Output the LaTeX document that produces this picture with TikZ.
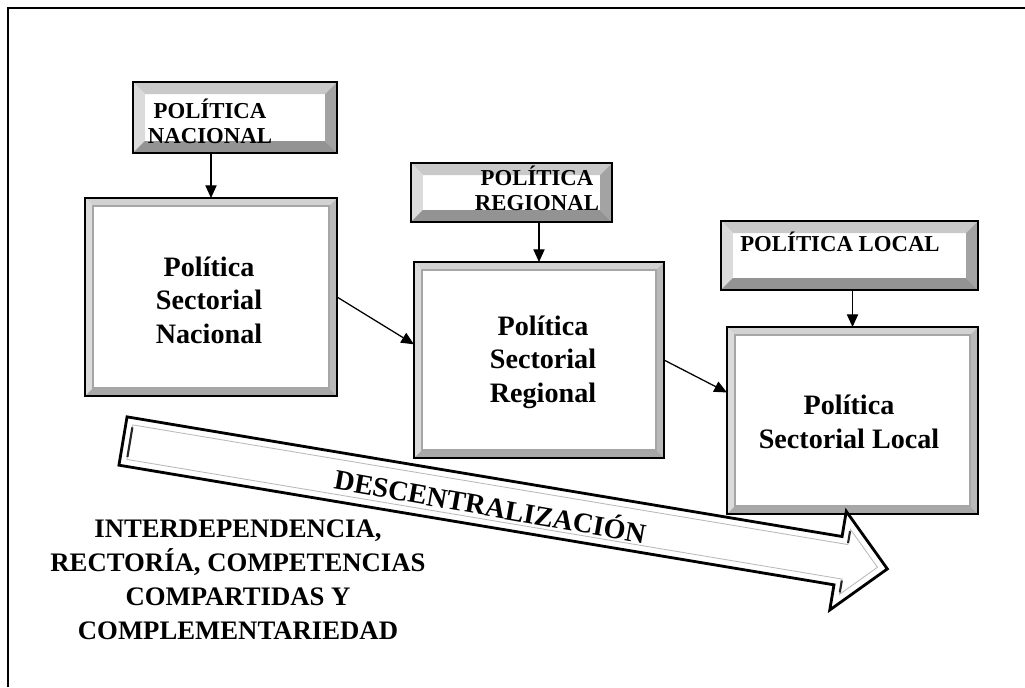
\documentclass[tikz,border=0pt]{standalone}
\usepackage{fontspec}
\setmainfont{Liberation Serif}
\usetikzlibrary{arrows.meta, calc}

% bevel faces of a framed box: width, top, left, right, bottom
\newcommand{\bevelfaces}[5]{%
	\coordinate (bvnw) at (path picture bounding box.north west);
	\coordinate (bvse) at (path picture bounding box.south east);
	\coordinate (bvne) at (bvnw -| bvse);
	\coordinate (bvsw) at (bvnw |- bvse);
	\fill[#2] (bvnw) -- (bvne) -- ([shift={(-#1,-#1)}]bvne) -- ([shift={(#1,-#1)}]bvnw) -- cycle;
	\fill[#3] (bvnw) -- (bvsw) -- ([shift={(#1,#1)}]bvsw) -- ([shift={(#1,-#1)}]bvnw) -- cycle;
	\fill[#4] (bvne) -- (bvse) -- ([shift={(-#1,#1)}]bvse) -- ([shift={(-#1,-#1)}]bvne) -- cycle;
	\fill[#5] (bvsw) -- (bvse) -- ([shift={(-#1,#1)}]bvse) -- ([shift={(#1,#1)}]bvsw) -- cycle;
}

\tikzset{
	smallbox/.style={draw, line width=2pt, fill=white, inner sep=0pt, outer sep=0pt,
		path picture={\bevelfaces{0.3cm}{gray!42}{gray!28}{gray!72}{gray!85}}},
	bigbox/.style={draw, line width=2pt, fill=white, inner sep=0pt, outer sep=0pt,
		path picture={\bevelfaces{0.2cm}{gray!35}{gray!28}{gray!55}{gray!68}
			\draw[gray!70, line width=0.8pt]
				([shift={(0.2cm,-0.2cm)}]bvnw) rectangle ([shift={(-0.2cm,0.2cm)}]bvse);}},
	smalltext/.style={font=\bfseries\fontsize{16.2}{17.8}\selectfont, align=center, inner sep=0pt},
	bigtext/.style={font=\bfseries\fontsize{20}{23.8}\selectfont, align=center, inner sep=0pt},
	conn/.style={->, line width=0.9pt}
}

\begin{document}
\begin{tikzpicture}[x=0.025cm, y=-0.025cm, >={Triangle[length=9pt, width=8pt]}]
	\useasboundingbox (0, 0) rectangle (1025, 687);

	% frame
	\draw[line width=2pt] (8, 687) -- (8, 8) -- (1025, 8);

	% policy boxes
	\node[smallbox, minimum width=5.1cm, minimum height=1.775cm] (pn) at (235, 117.5) {};
	\node[smallbox, minimum width=5.025cm, minimum height=1.475cm] (pr) at (511.5, 192.5) {};
	\node[smallbox, minimum width=6.425cm, minimum height=1.725cm] (pl) at (849.5, 255.5) {};

	\node[smalltext] (pntext) at (210, 121) {POLÍTICA\\NACIONAL};
	\node[smalltext] (prtext) at (537, 188) {POLÍTICA\\REGIONAL};
	\node[smalltext] (pltext) at (840, 242) {POLÍTICA LOCAL};

	% sector boxes
	\node[bigbox, minimum width=6.3cm, minimum height=4.95cm] (psn) at (211, 297) {};
	\node[bigbox, minimum width=6.25cm, minimum height=4.9cm] (psr) at (539, 360) {};
	\node[bigbox, minimum width=6.275cm, minimum height=4.675cm] (psl) at (852.5, 420.5) {};

	\node[bigtext] (psntext) at (209, 300) {Política\\Sectorial\\Nacional};
	\node[bigtext] (psrtext) at (543, 362) {Política\\Sectorial\\Regional};
	\node[bigtext] (psltext) at (849, 422) {Política\\Sectorial Local};

	% connectors
	\draw[conn] (psn.north |- pn.south) -- (psn.north);
	\draw[conn] (psr.north |- pr.south) -- (psr.north);
	\draw[conn] (psl.north |- pl.south) -- (psl.north);
	\draw[conn] (psn.east) -- ($(psr.north west)!0.42!(psr.south west)$);
	\draw[conn] (psr.east) -- ($(psl.north west)!0.35!(psl.south west)$);

	% big hollow arrow
	\begin{scope}[shift={(123, 441)}, rotate=-9.5]
		\filldraw[fill=white, line width=2pt, line join=miter]
			(0, -24.5) -- (725, -24.5) -- (725, -50) -- (775, 0) --
			(725, 50) -- (725, 24.5) -- (0, 24.5) -- cycle;
		\draw[gray!55, line width=0.6pt]
			(7, -17.5) -- (732, -17.5) -- (732, -33) -- (765, 0) --
			(732, 33) -- (732, 17.5) -- (7, 17.5) -- cycle;
		\draw[gray!30!black, line width=1.5pt] (7, -15) -- (7, 15);
		\draw[gray!30!black, line width=1.5pt] (732, -19) -- (732, -31);
		\draw[gray!30!black, line width=1.5pt] (732, 19) -- (732, 31);
		\node[font=\bfseries\fontsize{20}{22}\selectfont, rotate=-10, inner sep=0pt]
			(dtext) at (373, 2) {DESCENTRALIZACIÓN};
	\end{scope}

	\node[font=\bfseries\fontsize{19}{24.2}\selectfont, align=center, inner sep=0pt]
		(idtext) at (238, 580)
		{INTERDEPENDENCIA,\\RECTORÍA, COMPETENCIAS\\COMPARTIDAS Y\\COMPLEMENTARIEDAD};
\end{tikzpicture}
\end{document}
